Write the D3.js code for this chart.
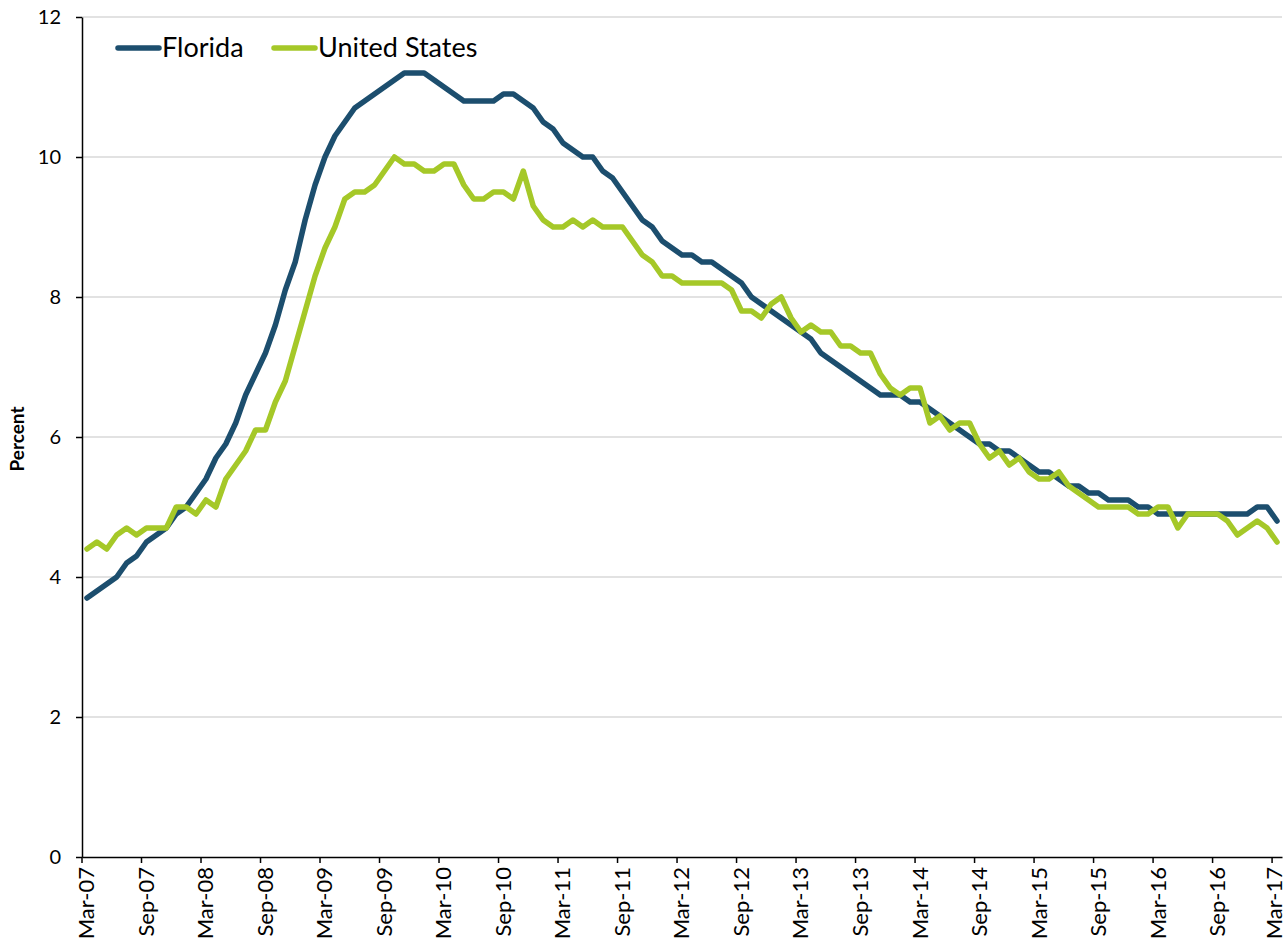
<!DOCTYPE html>
<html>
<head>
<meta charset="utf-8">
<script src="https://cdn.jsdelivr.net/npm/d3@7"></script>
<style>
  body { margin: 0; background: #fff; }
  svg { display: block; font-family: Lato, "Open Sans", sans-serif; }
</style>
</head>
<body>
<svg width="1286" height="943"></svg>
<script>
// monthly categories Mar-07 .. Mar-17
const months = d3.timeMonth.range(new Date(2007, 2, 1), new Date(2017, 3, 1)).map(d3.timeFormat("%b-%y"));

// unemployment rate, percent
const florida = [
    3.7, 3.8, 3.9, 4.0, 4.2, 4.3, 4.5, 4.6, 4.7, 4.9,
    5.0, 5.2, 5.4, 5.7, 5.9, 6.2, 6.6, 6.9, 7.2, 7.6, 8.1, 8.5,
    9.1, 9.6, 10.0, 10.3, 10.5, 10.7, 10.8, 10.9, 11.0, 11.1, 11.2, 11.2,
    11.2, 11.1, 11.0, 10.9, 10.8, 10.8, 10.8, 10.8, 10.9, 10.9, 10.8, 10.7,
    10.5, 10.4, 10.2, 10.1, 10.0, 10.0, 9.8, 9.7, 9.5, 9.3, 9.1, 9.0,
    8.8, 8.7, 8.6, 8.6, 8.5, 8.5, 8.4, 8.3, 8.2, 8.0, 7.9, 7.8,
    7.7, 7.6, 7.5, 7.4, 7.2, 7.1, 7.0, 6.9, 6.8, 6.7, 6.6, 6.6,
    6.6, 6.5, 6.5, 6.4, 6.3, 6.2, 6.1, 6.0, 5.9, 5.9, 5.8, 5.8,
    5.7, 5.6, 5.5, 5.5, 5.4, 5.3, 5.3, 5.2, 5.2, 5.1, 5.1, 5.1,
    5.0, 5.0, 4.9, 4.9, 4.9, 4.9, 4.9, 4.9, 4.9, 4.9, 4.9, 4.9,
    5.0, 5.0, 4.8
];
const unitedStates = [
    4.4, 4.5, 4.4, 4.6, 4.7, 4.6, 4.7, 4.7, 4.7, 5.0,
    5.0, 4.9, 5.1, 5.0, 5.4, 5.6, 5.8, 6.1, 6.1, 6.5, 6.8, 7.3,
    7.8, 8.3, 8.7, 9.0, 9.4, 9.5, 9.5, 9.6, 9.8, 10.0, 9.9, 9.9,
    9.8, 9.8, 9.9, 9.9, 9.6, 9.4, 9.4, 9.5, 9.5, 9.4, 9.8, 9.3,
    9.1, 9.0, 9.0, 9.1, 9.0, 9.1, 9.0, 9.0, 9.0, 8.8, 8.6, 8.5,
    8.3, 8.3, 8.2, 8.2, 8.2, 8.2, 8.2, 8.1, 7.8, 7.8, 7.7, 7.9,
    8.0, 7.7, 7.5, 7.6, 7.5, 7.5, 7.3, 7.3, 7.2, 7.2, 6.9, 6.7,
    6.6, 6.7, 6.7, 6.2, 6.3, 6.1, 6.2, 6.2, 5.9, 5.7, 5.8, 5.6,
    5.7, 5.5, 5.4, 5.4, 5.5, 5.3, 5.2, 5.1, 5.0, 5.0, 5.0, 5.0,
    4.9, 4.9, 5.0, 5.0, 4.7, 4.9, 4.9, 4.9, 4.9, 4.8, 4.6, 4.7,
    4.8, 4.7, 4.5
];
const yTicks = [0, 2, 4, 6, 8, 10, 12];
const seriesNames = ["Florida", "United States"];
const colors = ["#1c4e6e", "#a5c828"];

const svg = d3.select("svg");
const plotLeft = 82, plotRight = 1282, plotTop = 17, plotBottom = 857;

const x = d3.scaleBand().domain(months).range([plotLeft, plotRight]).paddingInner(0).paddingOuter(0);
const bw = x.bandwidth();
const y = d3.scaleLinear().domain([0, 12]).range([plotBottom, plotTop]);

// gridlines
svg.append("g")
    .selectAll("line")
    .data(yTicks.filter(d => d > 0))
    .enter().append("line")
    .attr("x1", plotLeft).attr("x2", plotRight)
    .attr("y1", d => y(d)).attr("y2", d => y(d))
    .attr("stroke", "#d9d9d9")
    .attr("stroke-width", 1.5);

// y axis
const yAxis = svg.append("g")
    .attr("transform", `translate(${plotLeft},0)`)
    .call(d3.axisLeft(y).tickValues(yTicks).tickSize(6).tickSizeOuter(0).tickPadding(15));
yAxis.select(".domain").attr("stroke", "#000").attr("stroke-width", 1.5);
yAxis.selectAll(".tick line").attr("stroke", "#000").attr("stroke-width", 1.5);
yAxis.selectAll(".tick text")
    .attr("font-family", "Lato, sans-serif")
    .attr("font-size", "20px")
    .attr("fill", "#000");

// x axis, ticks every 6 months on band edges
const xAxis = svg.append("g")
    .attr("transform", `translate(0,${plotBottom})`)
    .call(d3.axisBottom(x).tickValues(months.filter((d, i) => i % 6 === 0)).tickSize(6).tickSizeOuter(0));
xAxis.select(".domain").attr("stroke", "#000").attr("stroke-width", 1.5);
xAxis.selectAll(".tick line")
    .attr("transform", `translate(${-bw / 2},0)`)
    .attr("stroke", "#000").attr("stroke-width", 1.5);
xAxis.selectAll(".tick text")
    .attr("font-family", "Lato, sans-serif")
    .attr("font-size", "22px")
    .attr("fill", "#000")
    .attr("text-anchor", "end")
    .attr("dy", "0.34em")
    .attr("transform", (d, i, n) => `translate(${i === n.length - 1 ? -3 : 0},10) rotate(-90)`)
    .attr("x", 0).attr("y", 0);

// y title
svg.append("text")
    .attr("transform", "translate(24,439) rotate(-90)")
    .attr("text-anchor", "middle")
    .attr("font-family", "Lato, sans-serif")
    .attr("font-weight", "bold")
    .attr("font-size", "19px")
    .text("Percent");

// lines
const line = d3.line()
    .x((d, i) => x(months[i]) + bw / 2)
    .y(d => y(d));

[florida, unitedStates].forEach((s, k) => {
    svg.append("path")
        .datum(s)
        .attr("d", line)
        .attr("fill", "none")
        .attr("stroke", colors[k])
        .attr("stroke-width", 5.5)
        .attr("stroke-linejoin", "round")
        .attr("stroke-linecap", "round");
});

// legend
const legendX = [118, 274];
const legend = svg.append("g");
seriesNames.forEach((name, k) => {
    legend.append("line")
        .attr("x1", legendX[k]).attr("x2", legendX[k] + 41)
        .attr("y1", 48).attr("y2", 48)
        .attr("stroke", colors[k])
        .attr("stroke-width", 5.5)
        .attr("stroke-linecap", "round");
    legend.append("text")
        .attr("x", legendX[k] + 44)
        .attr("y", 57)
        .attr("font-family", "Lato, sans-serif")
        .attr("font-size", "27px")
        .attr("fill", "#000")
        .text(name);
});
</script>
</body>
</html>
